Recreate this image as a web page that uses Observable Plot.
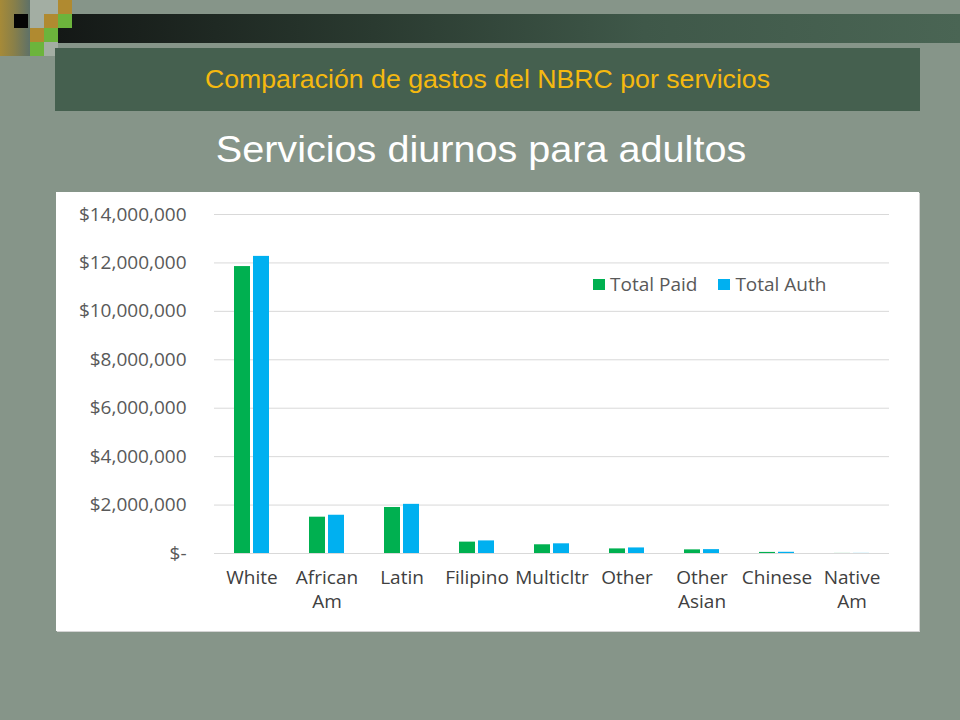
<!DOCTYPE html>
<html>
<head>
<meta charset="utf-8">
<script src="https://cdn.jsdelivr.net/npm/d3@7"></script>
<script src="https://cdn.jsdelivr.net/npm/@observablehq/plot@0.6"></script>
<style>
  html, body { margin: 0; padding: 0; }
  body { width: 960px; height: 720px; background: #869589; position: relative; overflow: hidden; font-family: "Liberation Sans", Arial, sans-serif; }
  .abs { position: absolute; }
  .sq { position: absolute; width: 14px; height: 14px; }
  #topbar { left: 58px; top: 14px; width: 902px; height: 29px; background: linear-gradient(to right, #141816, #2a3a30 35%, #3f5849 65%, #4a6554); }
  #grad { left: 0; top: 0; width: 30px; height: 56px; background: linear-gradient(to right, #a68a38, #8a8048 45%, #5e7168); }
  #titlebox { left: 55px; top: 48px; width: 865px; height: 63px; background: #45604f; color: #f5b90f; font-size: 26.7px; line-height: 63px; text-align: center; }
  #subtitle { left: 0; top: 132px; width: 962px; text-align: center; color: #ffffff; font-size: 36px; line-height: 36px; transform: scaleX(1.1); transform-origin: 481px 0; }
  #chartbox { left: 56px; top: 192px; width: 863px; height: 439px; background: #ffffff; box-shadow: 1px 1px 0 #d4d4d4; }
  #legend { left: 593px; top: 271px; font-family: "Open Sans", sans-serif; font-size: 19px; color: #595959; display: flex; align-items: center; gap: 0; }
  .sw { display: inline-block; width: 12px; height: 11px; margin-right: 5px; }
  .li { display: flex; align-items: center; margin-right: 21px; }
</style>
</head>
<body>
<div id="grad" class="abs"></div>
<div id="topbar" class="abs"></div>
<div class="sq" style="left:14px;top:14px;background:#050505"></div>
<div class="sq" style="left:30px;top:0px;width:28px;background:#a3aea3"></div>
<div class="sq" style="left:58px;top:0px;background:#b08a30"></div>
<div class="sq" style="left:30px;top:14px;background:#a3aea3"></div>
<div class="sq" style="left:44px;top:14px;background:#b08a30"></div>
<div class="sq" style="left:58px;top:14px;background:#6cb43c"></div>
<div class="sq" style="left:30px;top:28px;background:#b08a30"></div>
<div class="sq" style="left:44px;top:28px;background:#6cb43c"></div>
<div class="sq" style="left:30px;top:42px;background:#6cb43c"></div>
<div class="sq" style="left:44px;top:42px;background:#a3aea3"></div>
<div id="titlebox" class="abs">Comparación de gastos del NBRC por servicios</div>
<div id="subtitle" class="abs">Servicios diurnos para adultos</div>
<div id="chartbox" class="abs"></div>
<div id="legend" class="abs"></div>
<script>
const categories = ["White", "African Am", "Latin", "Filipino", "Multicltr", "Other", "Other Asian", "Chinese", "Native Am"];
const categoryLabels = ["White", "African\nAm", "Latin", "Filipino", "Multicltr", "Other", "Other\nAsian", "Chinese", "Native\nAm"];
const seriesNames = ["Total Paid", "Total Auth"];
const seriesColors = ["#00b050", "#00b0f0"];
const totalPaid = [11850000, 1500000, 1900000, 470000, 360000, 190000, 150000, 45000, 3000];
const totalAuth = [12270000, 1580000, 2030000, 520000, 400000, 230000, 160000, 50000, 4000];
const yTicks = [0, 2000000, 4000000, 6000000, 8000000, 10000000, 12000000, 14000000];

const data = [];
categories.forEach((c, i) => {
  data.push({category: c, series: seriesNames[0], value: totalPaid[i]});
  data.push({category: c, series: seriesNames[1], value: totalAuth[i]});
});
const labelOf = new Map(categories.map((c, i) => [c, categoryLabels[i]]));
const fmt = d3.format(",");

const chart = Plot.plot({
  width: 863,
  height: 439,
  marginLeft: 154,
  marginRight: 26,
  marginTop: 22,
  marginBottom: 78,
  style: {fontFamily: "'Open Sans', sans-serif", fontSize: "19px", color: "#595959", background: "transparent", overflow: "visible"},
  fx: {domain: categories, padding: 0, label: null, axis: null},
  x: {domain: seriesNames, paddingInner: 0.15, paddingOuter: 0.97, axis: null},
  y: {domain: [0, 14000000], axis: null},
  color: {domain: seriesNames, range: seriesColors},
  marks: [
    Plot.gridY(yTicks, {stroke: "#d9d9d9", strokeOpacity: 1}),
    Plot.barY(data, {fx: "category", x: "series", y: "value", fill: "series"}),
    Plot.axisY(yTicks, {tickSize: 0, tickPadding: 28, fontSize: 19, fill: "#595959", label: null,
      tickFormat: d => d === 0 ? "$-" : "$" + fmt(d)}),
    Plot.axisFx({anchor: "bottom", tickSize: 0, tickPadding: 14, fontSize: 19, fill: "#404040", lineHeight: 1.25, label: null,
      tickFormat: d => labelOf.get(d)})
  ]
});
chart.style.position = "absolute";
chart.style.left = "56px";
chart.style.top = "192px";
document.body.appendChild(chart);

const legend = document.getElementById("legend");
seriesNames.forEach((s, i) => {
  const item = document.createElement("div");
  item.className = "li";
  const sw = document.createElement("span");
  sw.className = "sw";
  sw.style.background = seriesColors[i];
  item.appendChild(sw);
  item.appendChild(document.createTextNode(s));
  legend.appendChild(item);
});
</script>
</body>
</html>
